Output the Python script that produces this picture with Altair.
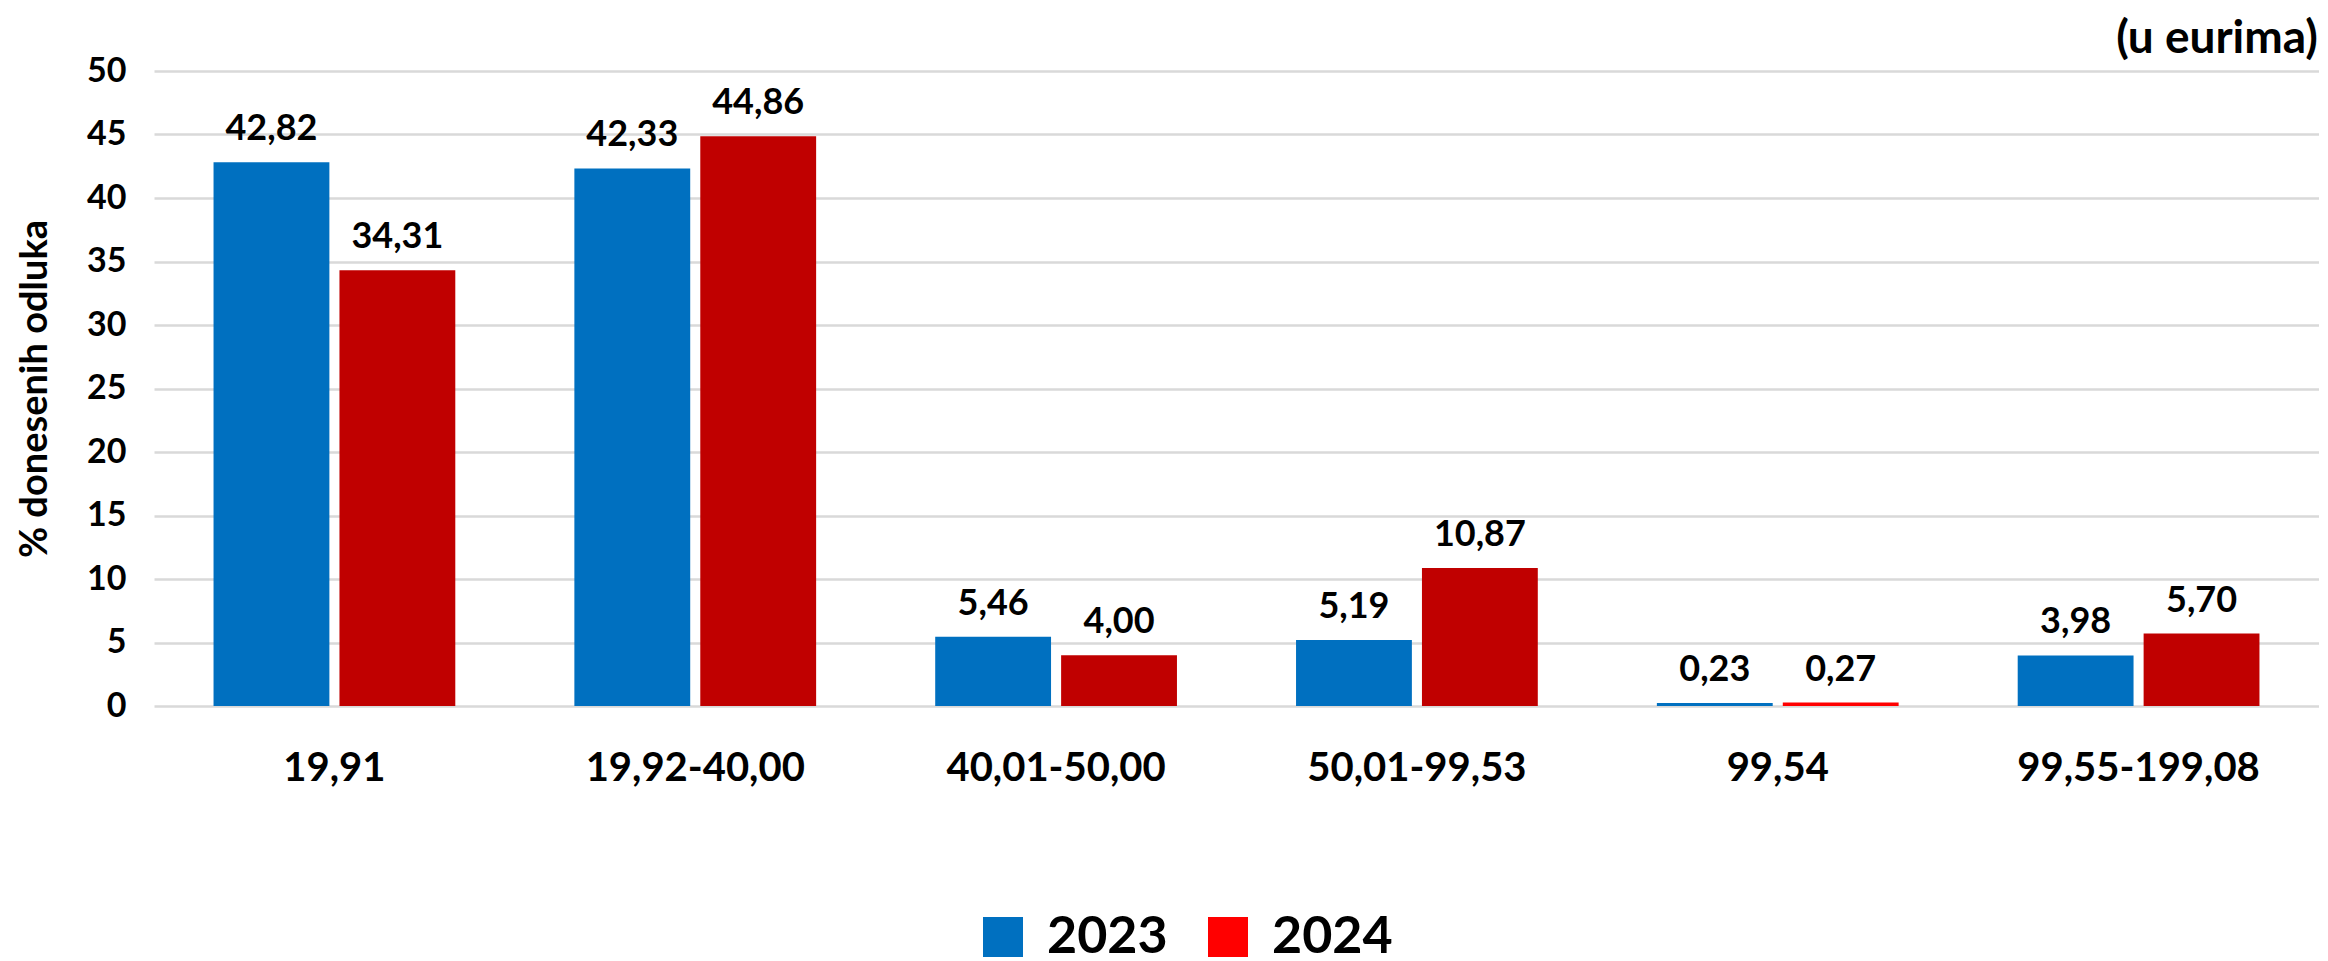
import altair as alt
import pandas as pd

categories = ["19,91", "19,92-40,00", "40,01-50,00", "50,01-99,53", "99,54", "99,55-199,08"]
years = ["2023", "2024"]
values_2023 = [42.82, 42.33, 5.46, 5.19, 0.23, 3.98]
values_2024 = [34.31, 44.86, 4.00, 10.87, 0.27, 5.70]
colors_2023 = ["#0070C0", "#0070C0", "#0070C0", "#0070C0", "#0070C0", "#0070C0"]
colors_2024 = ["#C00000", "#C00000", "#C00000", "#C00000", "#FF0000", "#C00000"]
legend_colors = ["#0070C0", "#FF0000"]
y_ticks = [0, 5, 10, 15, 20, 25, 30, 35, 40, 45, 50]
y_title = "% donesenih odluka"
unit_label = "(u eurima)"


def fmt(v):
    return f"{v:.2f}".replace(".", ",")


rows = []
for i, c in enumerate(categories):
    rows.append(dict(cat=c, year="2023", value=values_2023[i], fill=colors_2023[i], label=fmt(values_2023[i])))
    rows.append(dict(cat=c, year="2024", value=values_2024[i], fill=colors_2024[i], label=fmt(values_2024[i])))
df = pd.DataFrame(rows)

W = 2165
H = 635
FONT = "Lato"

x = alt.X(
    "cat:N",
    sort=categories,
    scale=alt.Scale(paddingInner=0.33, paddingOuter=0.165),
    axis=alt.Axis(
        title=None, labelAngle=0, labelFont=FONT, labelFontWeight="bold",
        labelFontSize=40, labelColor="black", labelPadding=42, labelLimit=0,
        ticks=False, domain=False, grid=False,
    ),
)
xo = alt.XOffset("year:N", sort=years, scale=alt.Scale(paddingInner=0.08, paddingOuter=0))
y = alt.Y(
    "value:Q",
    scale=alt.Scale(domain=[0, 50], nice=False),
    axis=alt.Axis(
        values=y_ticks, title=y_title, titleFont=FONT, titleFontWeight="bold",
        titleFontSize=38, titleColor="black", titlePadding=32,
        labelFont=FONT, labelFontWeight="bold", labelFontSize=34, labelColor="black",
        labelPadding=28, ticks=False, domain=False,
        grid=True, gridColor="#D9D9D9", gridWidth=2.5,
    ),
)

bars = alt.Chart(df).mark_bar().encode(
    x=x, xOffset=xo, y=y, fill=alt.Fill("fill:N", scale=None)
)

labels = alt.Chart(df).mark_text(
    baseline="bottom", dy=-14, font=FONT, fontWeight="bold", fontSize=36, color="black"
).encode(x=x, xOffset=xo, y=alt.Y("value:Q"), text="label:N")

legend_layer = alt.Chart(pd.DataFrame({"year": years})).mark_square(
    filled=True, clip=True, size=1600, opacity=1
).encode(
    x=alt.value(-500),
    y=alt.value(-500),
    color=alt.Color(
        "year:N", sort=years,
        scale=alt.Scale(domain=years, range=legend_colors),
        legend=alt.Legend(
            title=None, orient="none", legendX=823, legendY=840,
            direction="horizontal", symbolType="square", symbolSize=1600,
            symbolStrokeWidth=0, symbolOpacity=1,
            labelFont=FONT, labelFontWeight="bold", labelFontSize=52,
            labelColor="black", labelOffset=18, columnPadding=34,
        ),
    ),
)

unit = alt.Chart(pd.DataFrame({"t": [unit_label]})).mark_text(
    align="right", baseline="middle", font=FONT, fontWeight="bold", fontSize=46, color="black"
).encode(x=alt.value(W - 1), y=alt.value(-32), text="t:N")

chart = alt.layer(bars, labels, legend_layer, unit).properties(
    width=W, height=H,
    padding={"left": 8, "top": 8, "right": 0, "bottom": 0},
    background="white",
).configure_view(stroke=None)

chart.save("out.html", embed_options={"renderer": "svg", "actions": False})
